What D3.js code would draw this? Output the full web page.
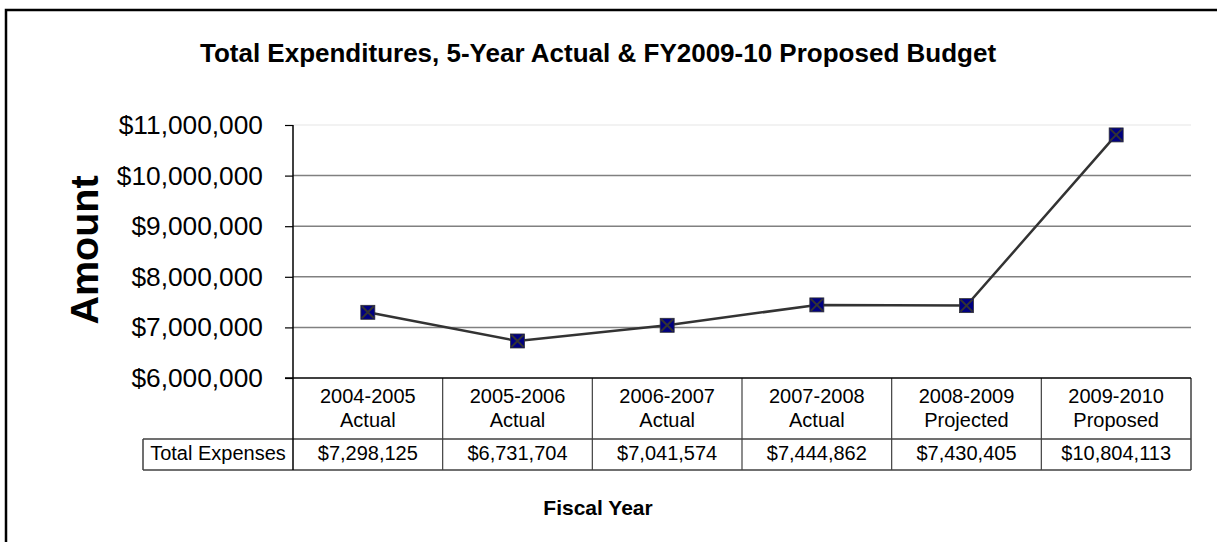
<!DOCTYPE html>
<html>
<head>
<meta charset="utf-8">
<script src="https://cdn.jsdelivr.net/npm/d3@7/dist/d3.min.js"></script>
<style>
  html, body { margin: 0; padding: 0; background: #fff; }
  svg { display: block; font-family: Arial, "Liberation Sans", sans-serif; }
</style>
</head>
<body>
<svg id="chart" width="1217" height="542"></svg>
<script>
// Fiscal years (two-line column headers) and total expenses per year
const yearLabels = ["2004-2005", "2005-2006", "2006-2007", "2007-2008", "2008-2009", "2009-2010"];
const statusLabels = ["Actual", "Actual", "Actual", "Actual", "Projected", "Proposed"];
const totalExpenses = [7298125, 6731704, 7041574, 7444862, 7430405, 10804113];
const yTicks = [6000000, 7000000, 8000000, 9000000, 10000000, 11000000];
const rowLabel = "Total Expenses";

const svg = d3.select("#chart");
const fmt = d3.format("$,.0f");

// Outer frame
svg.append("rect")
  .attr("x", 6).attr("y", 10)
  .attr("width", 1240).attr("height", 560)
  .attr("fill", "#fff").attr("stroke", "#000").attr("stroke-width", 2.5);

const plot = { left: 293, right: 1191, top: 125, bottom: 378 };

const x = d3.scaleBand().domain(yearLabels).range([plot.left, plot.right]).padding(0);
const y = d3.scaleLinear().domain([6000000, 11000000]).range([plot.bottom, plot.top]);

// Title
svg.append("text")
  .attr("x", 598).attr("y", 62)
  .attr("text-anchor", "middle")
  .attr("font-weight", "bold").attr("font-size", 26)
  .text("Total Expenditures, 5-Year Actual & FY2009-10 Proposed Budget");

// Horizontal gridlines
svg.append("g").selectAll("line")
  .data(yTicks.filter(t => t > 6000000))
  .join("line")
  .attr("x1", plot.left).attr("x2", plot.right)
  .attr("y1", d => y(d)).attr("y2", d => y(d))
  .attr("stroke", d => d === 11000000 ? "#eeeeee" : "#808080")
  .attr("stroke-width", 1.5);

// Y axis
const yAxis = svg.append("g")
  .attr("transform", `translate(${plot.left},0)`)
  .call(d3.axisLeft(y).tickValues(yTicks).tickFormat(fmt).tickSize(8).tickPadding(22));
yAxis.select(".domain").remove();
yAxis.selectAll(".tick line").attr("stroke", "#000").attr("stroke-width", 1.2);
yAxis.selectAll(".tick text")
  .attr("font-size", 26.3).attr("fill", "#000")
  .attr("font-family", "Arial, 'Liberation Sans', sans-serif");

// Y-axis title
svg.append("text")
  .attr("transform", "translate(98,250) rotate(-90)")
  .attr("text-anchor", "middle")
  .attr("font-weight", "bold").attr("font-size", 39.5)
  .text("Amount");

// Data table below the plot
const tbl = { top: 378, mid: 439, bottom: 470, labelLeft: 143 };
const tfs = 20;
const tableG = svg.append("g");

// column dividers through header and data rows
tableG.selectAll("line.col")
  .data(yearLabels.slice(1))
  .join("line").attr("class", "col")
  .attr("x1", d => x(d)).attr("x2", d => x(d))
  .attr("y1", tbl.top).attr("y2", tbl.bottom)
  .attr("stroke", "#404040").attr("stroke-width", 1.2);
// right edge
tableG.append("line")
  .attr("x1", plot.right).attr("x2", plot.right)
  .attr("y1", tbl.top).attr("y2", tbl.bottom)
  .attr("stroke", "#404040").attr("stroke-width", 1.5);
// row divider and bottom, including the label cell
tableG.append("line")
  .attr("x1", tbl.labelLeft).attr("x2", plot.right)
  .attr("y1", tbl.mid).attr("y2", tbl.mid)
  .attr("stroke", "#404040").attr("stroke-width", 1.5);
tableG.append("line")
  .attr("x1", tbl.labelLeft).attr("x2", plot.right)
  .attr("y1", tbl.bottom).attr("y2", tbl.bottom)
  .attr("stroke", "#404040").attr("stroke-width", 1.5);
// label cell left edge
tableG.append("line")
  .attr("x1", tbl.labelLeft).attr("x2", tbl.labelLeft)
  .attr("y1", tbl.mid).attr("y2", tbl.bottom)
  .attr("stroke", "#404040").attr("stroke-width", 1.5);

// header text
tableG.selectAll("text.yr")
  .data(yearLabels)
  .join("text").attr("class", "yr")
  .attr("x", d => x(d) + x.bandwidth() / 2).attr("y", 403)
  .attr("text-anchor", "middle").attr("font-size", tfs)
  .text(d => d);
tableG.selectAll("text.st")
  .data(statusLabels)
  .join("text").attr("class", "st")
  .attr("x", (d, i) => x(yearLabels[i]) + x.bandwidth() / 2).attr("y", 427)
  .attr("text-anchor", "middle").attr("font-size", tfs)
  .text(d => d);
// data row
tableG.append("text")
  .attr("x", (tbl.labelLeft + plot.left) / 2).attr("y", 460)
  .attr("text-anchor", "middle").attr("font-size", tfs)
  .text(rowLabel);
tableG.selectAll("text.val")
  .data(totalExpenses)
  .join("text").attr("class", "val")
  .attr("x", (d, i) => x(yearLabels[i]) + x.bandwidth() / 2).attr("y", 460)
  .attr("text-anchor", "middle").attr("font-size", tfs)
  .text(d => fmt(d));

// Y axis line and category axis line
svg.append("line")
  .attr("x1", plot.left).attr("x2", plot.left)
  .attr("y1", plot.top).attr("y2", tbl.bottom)
  .attr("stroke", "#000").attr("stroke-width", 1.5);
svg.append("line")
  .attr("x1", plot.left - 8).attr("x2", plot.right)
  .attr("y1", plot.bottom).attr("y2", plot.bottom)
  .attr("stroke", "#000").attr("stroke-width", 1.5);

// Series line
const pts = totalExpenses.map((v, i) => [x(yearLabels[i]) + x.bandwidth() / 2, y(v)]);
svg.append("path")
  .attr("d", d3.line()(pts))
  .attr("fill", "none").attr("stroke", "#333333").attr("stroke-width", 2.5);

// Markers: navy squares with an X
const ms = 7;
const mk = svg.append("g").selectAll("g").data(pts).join("g")
  .attr("transform", d => `translate(${d[0]},${d[1]})`);
mk.append("rect")
  .attr("x", -ms).attr("y", -ms).attr("width", 2 * ms).attr("height", 2 * ms)
  .attr("fill", "#000080").attr("stroke", "#333").attr("stroke-width", 0.8);
mk.append("path")
  .attr("d", `M${-ms + 1},${-ms + 1}L${ms - 1},${ms - 1}M${ms - 1},${-ms + 1}L${-ms + 1},${ms - 1}`)
  .attr("stroke", "#333").attr("stroke-width", 2);

// X-axis title
svg.append("text")
  .attr("x", 598).attr("y", 515)
  .attr("text-anchor", "middle")
  .attr("font-weight", "bold").attr("font-size", 21)
  .text("Fiscal Year");
</script>
</body>
</html>
